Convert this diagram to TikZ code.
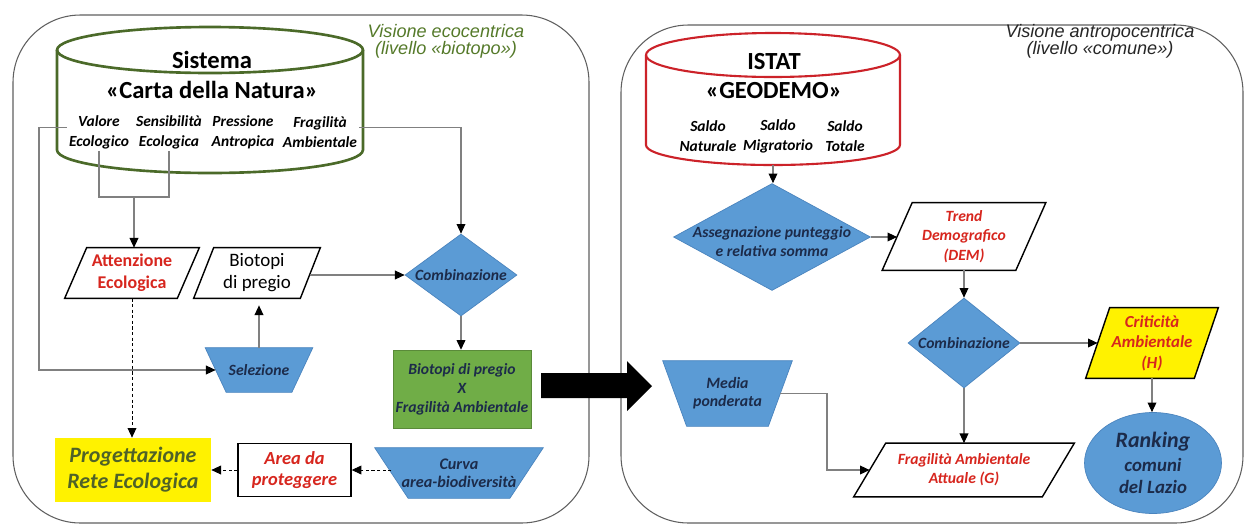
\documentclass[tikz,border=0pt]{standalone}
\usepackage{fontspec}
\setmainfont{Carlito}
\newfontfamily\arialf{Liberation Sans}
\usetikzlibrary{arrows.meta,shapes.geometric,backgrounds}
\definecolor{bfill}{HTML}{5B9BD5}
\definecolor{bdraw}{HTML}{4A84BE}
\definecolor{gfill}{HTML}{70AD47}
\definecolor{navy}{HTML}{1C2B4A}
\definecolor{redt}{HTML}{D7261E}
\definecolor{olivet}{HTML}{4F6228}
\definecolor{gtitle}{HTML}{557A2A}
\definecolor{cylgreen}{HTML}{4B6A29}
\definecolor{cylred}{HTML}{CC2229}
\definecolor{linec}{HTML}{808080}
\definecolor{boxc}{HTML}{606060}
\newcommand\shapeoutline[6]{%
  \begin{scope}[on background layer]
    \path[#6] ([xshift=#2*0.02cm]#1.north west) -- ([xshift=#3*0.02cm]#1.north east)
      -- ([xshift=#4*0.02cm]#1.south east) -- ([xshift=#5*0.02cm]#1.south west) -- cycle;
  \end{scope}}
\begin{document}
\begin{tikzpicture}[x=0.02cm,y=-0.02cm,
  conn/.style={draw=linec,line width=0.6pt,-{Triangle[length=5.5pt,width=5pt,color=black]}},
  lineonly/.style={draw=linec,line width=0.6pt},
  dconn/.style={draw=black,line width=0.5pt,dash pattern=on 1.8pt off 1.4pt,-{Triangle[length=5.5pt,width=5pt]}},
  boxline/.style={draw=boxc,line width=0.6pt,rounded corners=1.35cm},
  shp/.style={inner sep=0pt,align=center},
  bluetxt/.style={font=\fontsize{8.9}{10.8}\selectfont\bfseries\itshape,text=navy,align=center},
  bluefill/.style={fill=bfill,draw=bdraw,line width=0.4pt},
  whitepara/.style={fill=white,draw=black,line width=0.8pt},
  dia/.style={diamond,bluefill,inner sep=0pt},
  lbl/.style={font=\fontsize{8.8}{11.3}\selectfont\bfseries\itshape,align=center,inner sep=1pt},
  bigt/.style={font=\fontsize{14}{16}\selectfont\bfseries,inner sep=0pt},
  ttl/.style={font=\arialf\fontsize{10.3}{10}\selectfont\itshape,align=center,inner sep=0pt},
  cylg/.style={draw=cylgreen,line width=1.5pt},
  cylr/.style={draw=cylred,line width=1.2pt}]
\useasboundingbox (0,0) rectangle (1245,525);
\begin{scope}[on background layer]
  \fill[white] (0,0) rectangle (1245,525);
\end{scope}

% panels
\draw[boxline] (13,15) rectangle (589,523);
\draw[boxline] (621,25) rectangle (1243,523);
\node[ttl,text=gtitle] (tl) at (446,41.5) {Visione ecocentrica\\(livello «biotopo»)};
\node[ttl,text=black!85] (tr) at (1100,41.5) {Visione antropocentrica\\(livello «comune»)};

% green cylinder
\draw[cylg] (57,50) -- (57,150) arc[start angle=180,end angle=360,x radius=3.06cm,y radius=0.46cm] -- (363,50);
\draw[cylg] (210,50) ellipse[x radius=3.06cm,y radius=0.46cm];
\node[bigt] (sis) at (212,60) {Sistema};
\node[bigt] (cdn) at (212,90) {«Carta della Natura»};
\node[lbl] (vl) at (99,132) {Valore\\Ecologico};
\node[lbl] (sl) at (169,132) {Sensibilità\\Ecologica};
\node[lbl] (pl) at (243,132) {Pressione\\Antropica};
\node[lbl] (fl) at (320,132) {Fragilità\\Ambientale};

% red cylinder
\draw[cylr] (646,55) -- (646,145) arc[start angle=180,end angle=360,x radius=2.54cm,y radius=0.4cm] -- (900,55);
\draw[cylr] (773,55) ellipse[x radius=2.54cm,y radius=0.44cm];
\node[inner sep=0pt,minimum width=5.08cm,minimum height=2.64cm] (rcyl) at (773,99) {};
\node[bigt] (ist) at (774,62) {ISTAT};
\node[bigt] (geo) at (774,91) {«GEODEMO»};
\node[lbl] (sna) at (708,136) {Saldo\\Naturale};
\node[lbl] (smi) at (778,136) {Saldo\\Migratorio};
\node[lbl] (sto) at (845,136) {Saldo\\Totale};

% left flow
\node[shp,minimum width=2.24cm,minimum height=1cm,font=\fontsize{10.2}{12.5}\selectfont\bfseries,text=redt] (att) at (132,273) {Attenzione\\Ecologica};
\shapeoutline{att}{11}{11}{-11}{-11}{whitepara}
\node[shp,minimum width=2.12cm,minimum height=1cm,font=\fontsize{10.8}{12.5}\selectfont] (bio) at (257,273) {Biotopi\\di pregio};
\shapeoutline{bio}{10}{10}{-10}{-10}{whitepara}
\node[dia,minimum width=2.24cm,minimum height=1.64cm,label={[bluetxt]center:Combinazione}] (cmb1) at (461,275) {};
\node[shp,bluetxt,minimum width=1.72cm,minimum height=0.88cm] (sel) at (259,370) {Selezione};
\shapeoutline{sel}{-10.5}{10.5}{-10.5}{10.5}{bluefill}
\node[shp,fill=gfill,draw=gfill!80!black,line width=0.3pt,minimum width=2.76cm,minimum height=1.56cm,font=\fontsize{8.9}{10.8}\selectfont\bfseries\itshape,text=navy] (bxf) at (462,389) {Biotopi di pregio\\X\\Fragilità Ambientale};
\node[shp,fill=yellow,minimum width=3.12cm,minimum height=1.28cm,font=\fontsize{12.5}{14.7}\selectfont\bfseries\itshape,text=olivet] (prg) at (133,470) {Progettazione\\Rete Ecologica};
\node[shp,fill=white,draw=black,line width=0.8pt,minimum width=2.26cm,minimum height=1.06cm,font=\fontsize{10.5}{12}\selectfont\bfseries\itshape,text=redt] (area) at (294.5,470) {Area da\\proteggere};
\node[shp,bluetxt,font=\fontsize{9.2}{10.3}\selectfont\bfseries\itshape,minimum width=2.69cm,minimum height=1cm] (crv) at (459,473) {Curva\\area-biodiversità};
\shapeoutline{crv}{-16.75}{16.75}{-16.75}{16.75}{bluefill}

% big arrow
\fill[black] (541,373) -- (627,373) -- (627,361) -- (652,386) -- (627,411) -- (627,398) -- (541,398) -- cycle;

% right flow
\node[dia,minimum width=3.94cm,minimum height=2.14cm,label={[bluetxt,yshift=-2.5pt]center:Assegnazione punteggio\\e relativa somma}] (asg) at (772,237) {};
\node[shp,minimum width=2.66cm,minimum height=1.34cm,font=\fontsize{8.9}{11}\selectfont\bfseries\itshape,text=redt] (trd) at (964,236.5) {Trend\\Demografico\\(DEM)};
\shapeoutline{trd}{15}{15}{-15}{-15}{whitepara}
\node[dia,minimum width=2.24cm,minimum height=1.8cm,label={[bluetxt]center:Combinazione}] (cmb2) at (964,343) {};
\node[shp,minimum width=2.16cm,minimum height=1.4cm,font=\fontsize{9.6}{11.6}\selectfont\bfseries\itshape,text=redt] (crt) at (1152,343) {Criticità\\Ambientale\\(H)};
\shapeoutline{crt}{12}{12}{-12}{-12}{fill=yellow,draw=black,line width=0.8pt}
\node[ellipse,bluefill,minimum width=2.74cm,minimum height=2.02cm,inner sep=0pt,label={[font=\fontsize{10.7}{12.5}\selectfont\bfseries\itshape,text=navy,align=center]center:{\fontsize{12.5}{14}\selectfont Ranking}\\[1pt]comuni\\del Lazio}] (rnk) at (1153,463) {};
\node[shp,minimum width=3.76cm,minimum height=1.06cm,font=\fontsize{8.9}{10.8}\selectfont\bfseries\itshape,text=redt] (frg) at (964,470) {Fragilità Ambientale\\Attuale (G)};
\shapeoutline{frg}{16}{16}{-16}{-16}{whitepara}
\node[shp,bluetxt,font=\fontsize{9}{10.3}\selectfont\bfseries\itshape,minimum width=2.1cm,minimum height=1.3cm] (med) at (727.5,393.5) {Media\\ponderata};
\shapeoutline{med}{-12}{12}{-12}{12}{bluefill}

% connectors left
\coordinate (lft) at (39,0);
\coordinate (jn) at (134,197);
\draw[conn] ([yshift=2.8pt]vl.west) -- ([yshift=2.8pt]vl.west -| lft) |- (sel.west);
\draw[lineonly] (vl.south) -- (vl.south |- jn) -- (sl.south |- jn) -- (sl.south);
\draw[conn] (jn) -- (jn |- att.north);
\draw[conn] ([yshift=2.3pt]fl.east) -| (cmb1.north);
\draw[conn] (bio.east |- cmb1.west) -- (cmb1.west);
\draw[conn,shorten >=4pt] (sel.north) -- (sel.north |- bio.south);
\draw[conn] (cmb1.south) -- (cmb1.south |- bxf.north);
\draw[dconn] (att.south) -- (att.south |- prg.north);
\draw[dconn] (area.east -| crv.west) -- (area.east);
\draw[dconn] (area.west) -- (area.west -| prg.east);

% connectors right
\coordinate (mcol) at (827,0);
\draw[conn] (rcyl.south) -- (rcyl.south |- asg.north);
\draw[conn] (asg.east) -- (asg.east -| trd.west);
\draw[conn] (trd.south) -- (trd.south |- cmb2.north);
\draw[conn] (cmb2.east) -- (cmb2.east -| crt.west);
\draw[conn] (crt.south) -- (crt.south |- rnk.north);
\draw[conn] (cmb2.south) -- (cmb2.south |- frg.north);
\draw[conn] (med.east) -- (med.east -| mcol) |- (frg.west);
\end{tikzpicture}
\end{document}
